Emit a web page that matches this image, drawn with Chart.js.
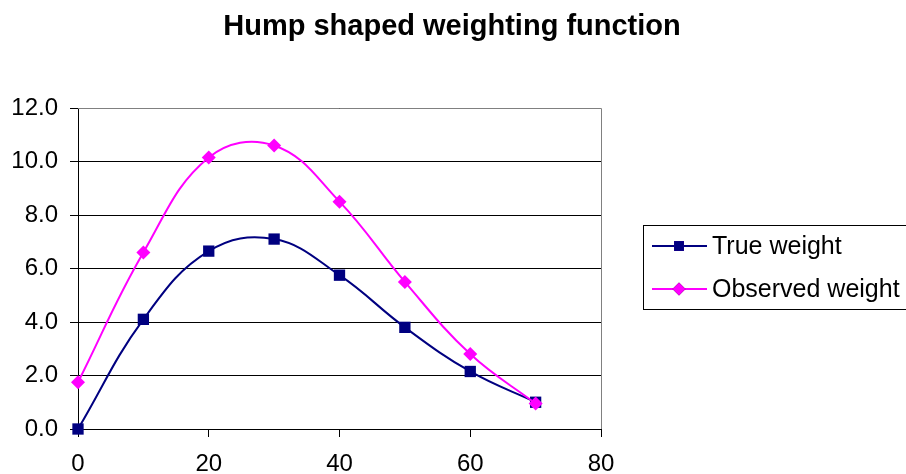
<!DOCTYPE html>
<html>
<head>
<meta charset="utf-8">
<script src="https://cdn.jsdelivr.net/npm/chart.js@4/dist/chart.umd.min.js"></script>
<style>
  html, body { margin: 0; padding: 0; background: #fff; }
  #wrap { width: 906px; height: 474px; }
</style>
</head>
<body>
<div id="wrap"><canvas id="grafico" width="906" height="474"></canvas></div>
<script>
// --- dados ---
const xValues = [0, 10, 20, 30, 40, 50, 60, 70];
const trueWeight = [0.0, 4.1, 6.65, 7.1, 5.75, 3.8, 2.15, 1.0];
const observedWeight = [1.75, 6.6, 10.15, 10.6, 8.5, 5.5, 2.8, 0.95];
const seriesNames = ['True weight', 'Observed weight'];
const titleText = 'Hump shaped weighting function';

const NAVY = '#000080';
const MAGENTA = '#FF00FF';
const FONT = 'Arial, "Liberation Sans", sans-serif';

function pares(ys) {
    return xValues.map((x, i) => ({ x: x, y: ys[i] }));
}

// título centrado na página inteira + borda cinza do plot (topo e direita)
const molduraTitulo = {
    id: 'molduraTitulo',
    beforeDatasetsDraw(chart) {
        const a = chart.chartArea;
        const c = chart.ctx;
        c.save();
        c.strokeStyle = '#808080';
        c.lineWidth = 1;
        c.beginPath();
        c.moveTo(a.left, a.top + 0.5);
        c.lineTo(a.right + 0.5, a.top + 0.5);
        c.lineTo(a.right + 0.5, a.bottom);
        c.stroke();

        c.fillStyle = '#000';
        c.font = 'bold 29px ' + FONT;
        c.textAlign = 'center';
        c.textBaseline = 'middle';
        c.fillText(titleText, 452, 27);
        c.restore();
    }
};

// legenda no estilo do Excel (linha + marcador, dentro de uma caixa)
const legendaExcel = {
    id: 'legendaExcel',
    afterDraw(chart) {
        const c = chart.ctx;
        c.save();
        c.strokeStyle = '#000';
        c.lineWidth = 1;
        c.strokeRect(643.5, 225.5, 270, 84);
        const linhas = [
            { nome: seriesNames[0], cor: NAVY, estilo: 'rect', y: 246 },
            { nome: seriesNames[1], cor: MAGENTA, estilo: 'rectRot', y: 289 }
        ];
        linhas.forEach(l => {
            c.strokeStyle = l.cor;
            c.lineWidth = 2;
            c.beginPath();
            c.moveTo(652, l.y);
            c.lineTo(707, l.y);
            c.stroke();
            Chart.helpers.drawPoint(c, {
                pointStyle: l.estilo,
                radius: l.estilo === 'rect' ? 7 : 6.5,
                borderWidth: 0
            }, 679, l.y);
            c.fillStyle = l.cor;
            c.fill();
            c.fillStyle = '#000';
            c.font = '25px ' + FONT;
            c.textBaseline = 'middle';
            c.textAlign = 'left';
            c.fillText(l.nome, 712, l.y + 1);
        });
        c.restore();
    }
};

const ctx = document.getElementById('grafico').getContext('2d');
new Chart(ctx, {
    type: 'line',
    data: {
        datasets: [{
            label: seriesNames[1],
            data: pares(observedWeight),
            borderColor: MAGENTA,
            backgroundColor: MAGENTA,
            borderWidth: 2,
            pointStyle: 'rectRot',
            pointRadius: 7,
            pointBorderWidth: 0,
            tension: 0.4,
            clip: false,
            order: 0
        }, {
            label: seriesNames[0],
            data: pares(trueWeight),
            borderColor: NAVY,
            backgroundColor: NAVY,
            borderWidth: 2,
            pointStyle: 'rect',
            pointRadius: 8,
            pointBorderWidth: 0,
            tension: 0.4,
            clip: false,
            order: 1
        }]
    },
    options: {
        responsive: false,
        animation: false,
        layout: { padding: { left: 0, right: 305, top: 108, bottom: 0 } },
        plugins: {
            legend: { display: false },
            tooltip: { enabled: false },
            title: { display: false }
        },
        scales: {
            x: {
                type: 'linear',
                min: 0,
                max: 80,
                ticks: {
                    stepSize: 20,
                    color: '#000',
                    font: { family: FONT, size: 24 },
                    padding: 13,
                    maxRotation: 0
                },
                grid: { drawOnChartArea: false, color: '#000', tickLength: 8 },
                border: { color: '#000', width: 1 },
                afterFit(scale) { scale.height = 45; }
            },
            y: {
                min: 0,
                max: 12,
                ticks: {
                    stepSize: 2,
                    color: '#000',
                    font: { family: FONT, size: 24 },
                    padding: 12,
                    callback: v => v.toFixed(1)
                },
                grid: { color: '#000', tickLength: 8 },
                border: { color: '#000', width: 1 },
                afterFit(scale) { scale.width = 78; }
            }
        }
    },
    plugins: [molduraTitulo, legendaExcel]
});
</script>
</body>
</html>
